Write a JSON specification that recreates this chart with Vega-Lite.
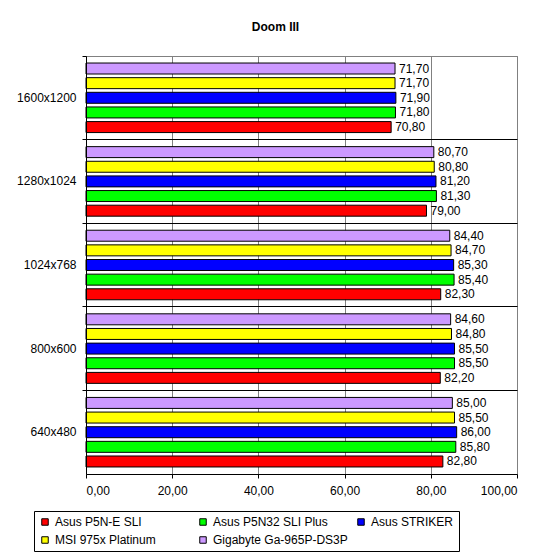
{
  "$schema": "https://vega.github.io/schema/vega-lite/v6.json",
  "width": 431,
  "height": 418,
  "autosize": {"type": "none"},
  "padding": {"left": 86, "top": 56, "right": 33, "bottom": 83},
  "background": "white",
  "title": {
    "text": "Doom III",
    "font": "Liberation Sans",
    "fontSize": 12,
    "fontWeight": "bold",
    "color": "black",
    "anchor": "middle",
    "baseline": "alphabetic",
    "offset": 13,
    "dx": -26
  },
  "config": {
    "locale": {
      "number": {"decimal": ",", "thousands": ".", "grouping": [3], "currency": ["", ""]}
    },
    "font": "Liberation Sans",
    "view": {"stroke": "#808080", "strokeWidth": 1}
  },
  "data": {
    "values": [
      {"res": "1600x1200", "board": "Asus P5N-E SLI", "fps": 70.8},
      {"res": "1600x1200", "board": "Asus P5N32 SLI Plus", "fps": 71.8},
      {"res": "1600x1200", "board": "Asus STRIKER", "fps": 71.9},
      {"res": "1600x1200", "board": "MSI 975x Platinum", "fps": 71.7},
      {"res": "1600x1200", "board": "Gigabyte Ga-965P-DS3P", "fps": 71.7},
      {"res": "1280x1024", "board": "Asus P5N-E SLI", "fps": 79.0},
      {"res": "1280x1024", "board": "Asus P5N32 SLI Plus", "fps": 81.3},
      {"res": "1280x1024", "board": "Asus STRIKER", "fps": 81.2},
      {"res": "1280x1024", "board": "MSI 975x Platinum", "fps": 80.8},
      {"res": "1280x1024", "board": "Gigabyte Ga-965P-DS3P", "fps": 80.7},
      {"res": "1024x768", "board": "Asus P5N-E SLI", "fps": 82.3},
      {"res": "1024x768", "board": "Asus P5N32 SLI Plus", "fps": 85.4},
      {"res": "1024x768", "board": "Asus STRIKER", "fps": 85.3},
      {"res": "1024x768", "board": "MSI 975x Platinum", "fps": 84.7},
      {"res": "1024x768", "board": "Gigabyte Ga-965P-DS3P", "fps": 84.4},
      {"res": "800x600", "board": "Asus P5N-E SLI", "fps": 82.2},
      {"res": "800x600", "board": "Asus P5N32 SLI Plus", "fps": 85.5},
      {"res": "800x600", "board": "Asus STRIKER", "fps": 85.5},
      {"res": "800x600", "board": "MSI 975x Platinum", "fps": 84.8},
      {"res": "800x600", "board": "Gigabyte Ga-965P-DS3P", "fps": 84.6},
      {"res": "640x480", "board": "Asus P5N-E SLI", "fps": 82.8},
      {"res": "640x480", "board": "Asus P5N32 SLI Plus", "fps": 85.8},
      {"res": "640x480", "board": "Asus STRIKER", "fps": 86.0},
      {"res": "640x480", "board": "MSI 975x Platinum", "fps": 85.5},
      {"res": "640x480", "board": "Gigabyte Ga-965P-DS3P", "fps": 85.0}
    ]
  },
  "encoding": {
    "y": {
      "field": "res",
      "type": "nominal",
      "sort": ["1600x1200", "1280x1024", "1024x768", "800x600", "640x480"],
      "scale": {"paddingInner": 0, "paddingOuter": 0},
      "axis": {
        "title": null,
        "bandPosition": 0,
        "labelFont": "Liberation Sans",
        "labelFontSize": 12,
        "labelColor": "black",
        "labelPadding": 6,
        "tickSize": 4,
        "tickColor": "black",
        "domainColor": "black",
        "grid": true,
        "gridColor": {"condition": {"test": "datum.value === '1600x1200'", "value": "#808080"}, "value": "black"},
        "zindex": 1
      }
    },
    "yOffset": {
      "field": "board",
      "type": "nominal",
      "sort": ["Gigabyte Ga-965P-DS3P", "MSI 975x Platinum", "Asus STRIKER", "Asus P5N32 SLI Plus", "Asus P5N-E SLI"],
      "scale": {"paddingInner": 0.25, "paddingOuter": 0.48}
    },
    "x": {
      "field": "fps",
      "type": "quantitative",
      "scale": {"domain": [0, 100], "nice": false},
      "axis": {
        "title": null,
        "values": [0, 20, 40, 60, 80, 100],
        "format": ".2f",
        "labelFont": "Liberation Sans",
        "labelFontSize": 12,
        "labelColor": "black",
        "labelPadding": 7,
        "tickSize": 4,
        "tickColor": "black",
        "domainColor": "black",
        "gridColor": "#808080",
        "zindex": 0
      }
    }
  },
  "layer": [
    {
      "mark": {"type": "bar", "stroke": "black", "strokeWidth": 1},
      "encoding": {
        "color": {
          "field": "board",
          "type": "nominal",
          "scale": {
            "domain": ["Asus P5N-E SLI", "Asus P5N32 SLI Plus", "Asus STRIKER", "MSI 975x Platinum", "Gigabyte Ga-965P-DS3P"],
            "range": ["#FF0000", "#00FF00", "#0000FF", "#FFFF00", "#CC99FF"]
          },
          "legend": {
            "title": null,
            "orient": "none",
            "legendX": -52,
            "legendY": 455,
            "direction": "horizontal",
            "columns": 3,
            "gridAlign": "all",
            "columnPadding": 7,
            "rowPadding": 6,
            "padding": 5,
            "strokeColor": "black",
            "fillColor": "white",
            "labelFont": "Liberation Sans",
            "labelFontSize": 12,
            "labelColor": "black",
            "labelOffset": 4,
            "labelLimit": 300,
            "symbolType": "square",
            "symbolSize": 42,
            "symbolStrokeColor": "black",
            "symbolStrokeWidth": 1,
            "symbolOpacity": 1
          }
        }
      }
    },
    {
      "mark": {"type": "text", "align": "left", "baseline": "middle", "dx": 4, "font": "Liberation Sans", "fontSize": 12, "color": "black"},
      "encoding": {
        "text": {"field": "fps", "type": "quantitative", "format": ".2f"}
      }
    }
  ]
}
